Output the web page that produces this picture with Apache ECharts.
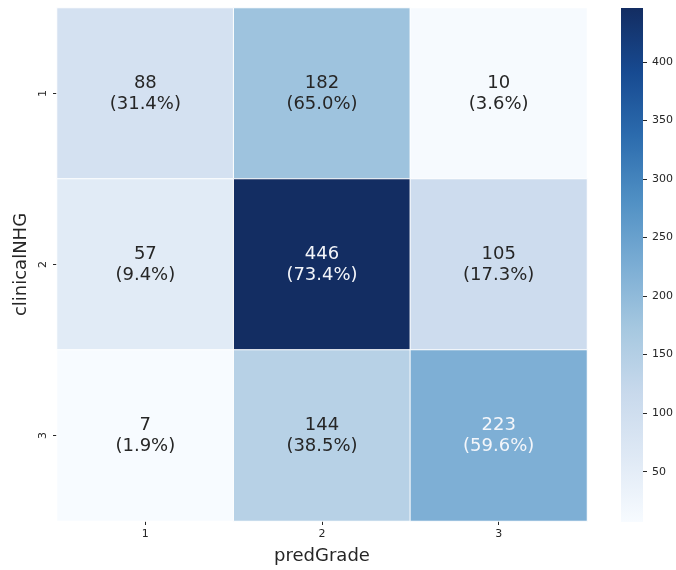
<!DOCTYPE html>
<html>
<head>
<meta charset="utf-8">
<script src="https://cdn.jsdelivr.net/npm/echarts@6/dist/echarts.min.js"></script>
<style>
  html, body { margin: 0; padding: 0; background: #ffffff; }
  #chart { width: 676px; height: 570px; }
</style>
</head>
<body>
<div id="chart"></div>
<script>
// Confusion matrix: rows are clinicalNHG, columns are predGrade
const predCategories = ['1', '2', '3'];
const clinicalCategories = ['1', '2', '3'];
const row1Counts = [88, 182, 10];
const row2Counts = [57, 446, 105];
const row3Counts = [7, 144, 223];
const countRows = [row1Counts, row2Counts, row3Counts];
const colorbarTicks = [50, 100, 150, 200, 250, 300, 350, 400];
const colorMin = 7;
const colorMax = 446;

// Soft blues colour ramp, light to dark
const blues = ['#f7fbff', '#dfe9f5', '#c8d9ec', '#a6c8e0', '#7badd4',
               '#5090c4', '#2c6cae', '#174a91', '#132d62'];

const FONT = 'DejaVu Sans';
const TEXT = '#262626';

const cells = [];
countRows.forEach((row, r) => {
  const total = row.reduce((a, b) => a + b, 0);
  row.forEach((v, c) => {
    cells.push({
      value: [c, r, v],
      pct: (100 * v / total).toFixed(1),
      label: { color: v > 200 ? '#f4f6fa' : TEXT }
    });
  });
});

// top of the colour bar is the darkest end
const barStops = blues.map((col, i) => ({ offset: 1 - i / (blues.length - 1), color: col })).reverse();

const chart = echarts.init(document.getElementById('chart'), null, { renderer: 'canvas' });
chart.setOption({
  backgroundColor: '#ffffff',
  animation: false,
  textStyle: { fontFamily: FONT },
  grid: [
    { left: 57, top: 8, width: 530, height: 514 },
    { left: 621, top: 8, width: 25, height: 514 }
  ],
  xAxis: [
    {
      gridIndex: 0, type: 'category', data: predCategories, position: 'bottom',
      name: 'predGrade', nameLocation: 'middle', nameGap: 26,
      nameTextStyle: { fontSize: 18, color: TEXT, fontFamily: FONT },
      axisLine: { show: false },
      axisTick: { show: true, alignWithLabel: true, length: 4, lineStyle: { color: TEXT } },
      axisLabel: { fontSize: 11, color: TEXT, margin: 8, fontFamily: FONT },
      splitArea: { show: false }, splitLine: { show: false }
    },
    {
      gridIndex: 1, type: 'category', data: ['c'], show: false
    }
  ],
  yAxis: [
    {
      gridIndex: 0, type: 'category', data: clinicalCategories, inverse: true,
      name: 'clinicalNHG', nameLocation: 'middle', nameGap: 26, nameRotate: 90,
      nameTextStyle: { fontSize: 18, color: TEXT, fontFamily: FONT },
      axisLine: { show: false },
      axisTick: { show: true, alignWithLabel: true, length: 4, lineStyle: { color: TEXT } },
      axisLabel: { fontSize: 11, color: TEXT, rotate: 90, margin: 8, fontFamily: FONT },
      splitArea: { show: false }, splitLine: { show: false }
    },
    {
      gridIndex: 1, type: 'value', position: 'right', min: colorMin, max: colorMax,
      axisLine: { show: false },
      splitLine: { show: false },
      axisTick: { show: true, length: 4, lineStyle: { color: TEXT }, customValues: colorbarTicks },
      axisLabel: { fontSize: 11, color: TEXT, margin: 9, fontFamily: FONT, customValues: colorbarTicks }
    }
  ],
  visualMap: {
    show: false, type: 'continuous', seriesIndex: 0,
    min: colorMin, max: colorMax, dimension: 2,
    inRange: { color: blues }
  },
  series: [
    {
      type: 'heatmap', xAxisIndex: 0, yAxisIndex: 0,
      data: cells,
      itemStyle: { borderColor: '#ffffff', borderWidth: 1 },
      label: {
        show: true, fontSize: 18, lineHeight: 21, fontFamily: FONT,
        formatter: p => p.value[2] + '\n(' + p.data.pct + '%)'
      },
      emphasis: { disabled: true }
    },
    {
      type: 'bar', xAxisIndex: 1, yAxisIndex: 1,
      data: [colorMax], barWidth: '100%',
      itemStyle: { color: new echarts.graphic.LinearGradient(0, 0, 0, 1, barStops) },
      silent: true
    }
  ]
});
</script>
</body>
</html>
